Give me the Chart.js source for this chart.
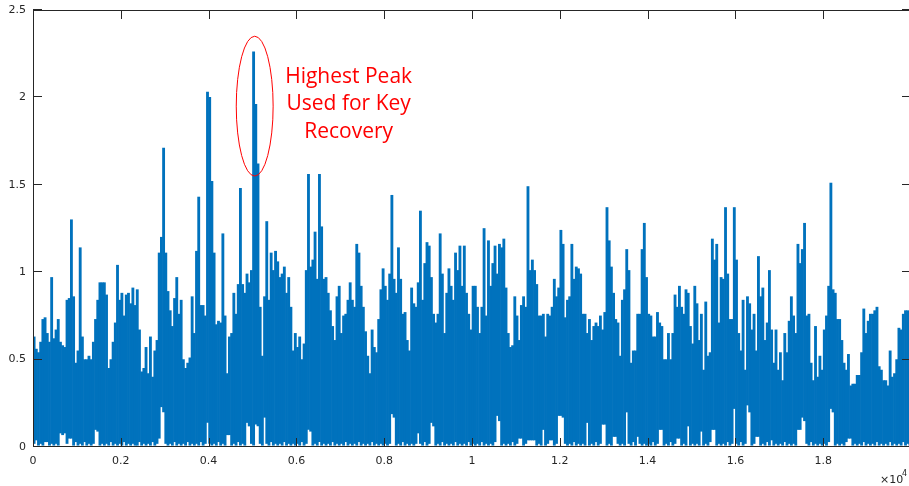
<!DOCTYPE html>
<html>
<head>
<meta charset="utf-8">
<script src="https://cdn.jsdelivr.net/npm/chart.js@4/dist/chart.umd.min.js"></script>
<style>
  html, body { margin: 0; padding: 0; background: #ffffff; }
  #frame { width: 909px; height: 486px; overflow: hidden; position: relative; }
  canvas { display: block; }
</style>
</head>
<body>
<div id="frame"><canvas id="trace" width="912" height="486"></canvas></div>
<script>
// Correlation trace, summarised as one max / min pair per bin of 50 samples.
const samplesPerBin = 50;
const signalLength = 20000;

// Upper envelope of each bin (one row per 1000 samples).
const peakValues = [
  0.63, 0.56, 0.54, 0.60, 0.73, 0.74, 0.65, 0.60, 0.97, 0.62, 0.67, 0.73, 0.60, 0.58, 0.57, 0.84, 0.85, 1.30, 0.86, 0.48,
  0.55, 1.14, 0.63, 0.50, 0.50, 0.52, 0.50, 0.60, 0.73, 0.84, 0.94, 0.94, 0.94, 0.87, 0.45, 0.50, 0.60, 0.71, 1.04, 0.84,
  0.88, 0.75, 0.87, 0.88, 0.82, 0.91, 0.81, 0.90, 0.67, 0.43, 0.45, 0.57, 0.42, 0.63, 0.40, 0.55, 0.61, 1.11, 1.20, 1.71,
  1.11, 0.89, 0.78, 0.69, 0.85, 0.97, 0.76, 0.84, 0.50, 0.45, 0.48, 0.51, 0.86, 0.65, 1.12, 1.43, 0.81, 0.81, 0.75, 2.03,
  2.00, 1.52, 1.11, 0.70, 0.72, 0.71, 1.22, 0.75, 0.42, 0.63, 0.65, 0.88, 0.76, 0.93, 1.48, 0.93, 0.88, 0.99, 0.94, 1.01,
  2.26, 1.96, 1.62, 0.80, 0.52, 0.86, 1.29, 0.84, 1.11, 1.01, 1.12, 1.06, 0.97, 0.99, 1.03, 0.88, 0.97, 0.80, 0.55, 0.65,
  0.57, 0.63, 0.50, 0.59, 1.01, 1.56, 1.03, 1.07, 1.23, 0.96, 1.56, 1.26, 0.96, 0.97, 0.88, 0.78, 0.69, 0.61, 0.86, 0.92,
  0.65, 0.75, 0.76, 0.84, 0.94, 0.84, 0.80, 1.16, 1.11, 0.92, 0.80, 0.66, 0.52, 0.42, 0.67, 0.57, 0.54, 0.73, 0.90, 1.02,
  0.92, 0.84, 0.99, 1.44, 0.96, 0.88, 1.14, 0.96, 0.76, 0.77, 0.61, 0.55, 0.91, 0.82, 0.80, 0.94, 1.35, 0.84, 1.05, 1.17,
  1.15, 0.97, 0.76, 0.71, 0.76, 1.22, 0.99, 0.65, 0.88, 1.02, 0.92, 0.84, 1.11, 1.01, 1.15, 0.92, 1.15, 0.88, 0.76, 0.67,
  0.92, 0.92, 0.80, 0.65, 0.80, 1.25, 0.75, 1.18, 0.92, 1.05, 1.15, 0.99, 1.16, 1.14, 1.19, 0.91, 0.65, 0.57, 0.58, 0.86,
  0.75, 0.61, 0.81, 0.86, 0.80, 1.49, 1.01, 1.07, 1.01, 0.93, 0.75, 0.75, 0.76, 0.63, 0.76, 0.75, 0.80, 0.96, 0.86, 0.91,
  1.24, 1.16, 0.74, 0.84, 0.86, 1.16, 0.96, 1.03, 1.02, 0.99, 0.76, 0.76, 0.65, 0.73, 0.61, 0.69, 0.71, 0.69, 0.75, 0.67,
  0.77, 1.37, 1.18, 1.03, 0.88, 0.73, 0.71, 0.52, 0.84, 0.90, 1.13, 1.01, 0.48, 0.55, 0.55, 0.76, 0.76, 1.13, 1.28, 0.97,
  0.76, 0.75, 0.63, 0.63, 0.77, 0.71, 0.69, 0.50, 0.50, 0.65, 0.50, 0.65, 0.87, 0.80, 0.92, 0.80, 0.76, 0.90, 0.88, 0.69,
  0.59, 0.92, 0.82, 0.61, 0.76, 0.44, 0.83, 0.52, 0.54, 1.19, 1.07, 1.16, 0.71, 0.97, 0.96, 1.37, 0.99, 0.73, 0.73, 1.37,
  1.07, 0.65, 0.55, 0.84, 0.44, 0.86, 0.82, 0.67, 0.76, 0.55, 1.09, 0.86, 0.91, 0.61, 0.71, 1.01, 0.67, 0.48, 0.67, 0.44,
  0.54, 0.38, 0.65, 0.54, 0.72, 0.86, 0.75, 0.65, 1.16, 1.05, 1.13, 1.28, 0.75, 0.76, 0.48, 0.38, 0.69, 0.40, 0.52, 0.44,
  0.67, 0.75, 0.92, 1.51, 0.90, 0.88, 0.73, 0.73, 0.61, 0.48, 0.44, 0.53, 0.35, 0.36, 0.36, 0.41, 0.41, 0.54, 0.79, 0.65,
  0.72, 0.76, 0.76, 0.78, 0.80, 0.46, 0.44, 0.38, 0.38, 0.35, 0.55, 0.40, 0.42, 0.50, 0.68, 0.67, 0.76, 0.78, 0.78, 0.70
];

// Lower envelope of each bin (same layout).
const dipValues = [
  0.02, 0.04, 0.01, 0.02, 0.01, 0.03, 0.03, 0.01, 0.02, 0.01, 0.02, 0.01, 0.08, 0.07, 0.08, 0.02, 0.05, 0.05, 0.01, 0.03,
  0.01, 0.02, 0.01, 0.03, 0.01, 0.02, 0.01, 0.02, 0.10, 0.09, 0.01, 0.02, 0.01, 0.02, 0.01, 0.03, 0.01, 0.02, 0.01, 0.02,
  0.01, 0.03, 0.01, 0.02, 0.01, 0.02, 0.01, 0.01, 0.03, 0.01, 0.02, 0.01, 0.02, 0.01, 0.03, 0.01, 0.02, 0.05, 0.23, 0.20,
  0.02, 0.01, 0.02, 0.01, 0.03, 0.01, 0.02, 0.01, 0.02, 0.01, 0.03, 0.01, 0.02, 0.01, 0.02, 0.01, 0.03, 0.01, 0.02, 0.14,
  0.02, 0.01, 0.02, 0.01, 0.03, 0.01, 0.02, 0.01, 0.07, 0.07, 0.01, 0.02, 0.01, 0.03, 0.01, 0.02, 0.01, 0.14, 0.12, 0.02,
  0.01, 0.13, 0.12, 0.02, 0.01, 0.17, 0.02, 0.01, 0.03, 0.01, 0.02, 0.01, 0.02, 0.01, 0.03, 0.01, 0.02, 0.01, 0.02, 0.01,
  0.02, 0.01, 0.03, 0.01, 0.02, 0.10, 0.09, 0.01, 0.02, 0.01, 0.03, 0.01, 0.02, 0.01, 0.02, 0.01, 0.03, 0.01, 0.02, 0.01,
  0.02, 0.01, 0.03, 0.01, 0.02, 0.01, 0.02, 0.01, 0.03, 0.01, 0.02, 0.01, 0.02, 0.01, 0.03, 0.01, 0.02, 0.01, 0.02, 0.01,
  0.02, 0.01, 0.02, 0.19, 0.17, 0.01, 0.02, 0.01, 0.03, 0.01, 0.02, 0.01, 0.02, 0.01, 0.02, 0.08, 0.02, 0.01, 0.03, 0.01,
  0.02, 0.14, 0.12, 0.01, 0.02, 0.01, 0.03, 0.01, 0.02, 0.01, 0.02, 0.01, 0.03, 0.01, 0.02, 0.01, 0.02, 0.01, 0.03, 0.01,
  0.02, 0.01, 0.02, 0.01, 0.03, 0.01, 0.02, 0.01, 0.02, 0.01, 0.03, 0.18, 0.15, 0.01, 0.02, 0.01, 0.02, 0.01, 0.03, 0.01,
  0.02, 0.05, 0.05, 0.01, 0.02, 0.04, 0.04, 0.04, 0.04, 0.01, 0.02, 0.01, 0.10, 0.01, 0.02, 0.04, 0.04, 0.01, 0.02, 0.18,
  0.18, 0.17, 0.02, 0.01, 0.02, 0.01, 0.03, 0.01, 0.02, 0.01, 0.02, 0.01, 0.14, 0.01, 0.02, 0.01, 0.03, 0.01, 0.02, 0.13,
  0.13, 0.01, 0.02, 0.01, 0.06, 0.06, 0.02, 0.01, 0.02, 0.01, 0.20, 0.02, 0.01, 0.03, 0.01, 0.06, 0.02, 0.01, 0.02, 0.01,
  0.02, 0.01, 0.03, 0.01, 0.02, 0.10, 0.10, 0.01, 0.02, 0.01, 0.03, 0.01, 0.02, 0.05, 0.05, 0.01, 0.02, 0.01, 0.12, 0.01,
  0.02, 0.01, 0.02, 0.01, 0.09, 0.01, 0.02, 0.01, 0.03, 0.10, 0.10, 0.01, 0.02, 0.01, 0.02, 0.01, 0.03, 0.01, 0.02, 0.22,
  0.02, 0.01, 0.03, 0.01, 0.02, 0.24, 0.20, 0.01, 0.02, 0.06, 0.06, 0.01, 0.02, 0.01, 0.03, 0.01, 0.04, 0.01, 0.02, 0.01,
  0.02, 0.01, 0.03, 0.01, 0.02, 0.01, 0.02, 0.01, 0.10, 0.10, 0.17, 0.15, 0.02, 0.01, 0.03, 0.01, 0.02, 0.01, 0.02, 0.01,
  0.02, 0.01, 0.03, 0.22, 0.20, 0.01, 0.02, 0.01, 0.02, 0.01, 0.03, 0.05, 0.05, 0.01, 0.02, 0.01, 0.02, 0.01, 0.03, 0.01,
  0.02, 0.01, 0.02, 0.01, 0.03, 0.01, 0.02, 0.01, 0.02, 0.01, 0.03, 0.01, 0.02, 0.01, 0.02, 0.01, 0.03, 0.01, 0.02, 0.01
];

// Axis ticks
const xTickValues = [0, 2000, 4000, 6000, 8000, 10000, 12000, 14000, 16000, 18000];
const xTickLabels = ['0', '0.2', '0.4', '0.6', '0.8', '1', '1.2', '1.4', '1.6', '1.8'];
const yTickValues = [0, 0.5, 1, 1.5, 2, 2.5];
const yTickLabels = ['0', '0.5', '1', '1.5', '2', '2.5'];

// Callout around the strongest correlation peak
const calloutLines = ['Highest Peak', 'Used for Key', 'Recovery'];
const ring = { x: 5050, y: 1.95, rx: 420, ry: 0.40 };
const calloutAnchor = { x: 7190, y: 1.96 };

const AXIS_COLOR = '#262626';
const TRACE_COLOR = '#0072BD';
const TICK_FONT = { family: 'DejaVu Sans, sans-serif', size: 11 };

// Every bin is drawn as a solid column spanning its min..max range.
const binColumns = peakValues.map((peak, i) => ({
  x: i * samplesPerBin + samplesPerBin / 2,
  y: [dipValues[i], peak]
}));

const boxAndTicks = {
  id: 'boxAndTicks',
  afterDraw(chart) {
    const { ctx, chartArea: a, scales } = chart;
    const len = 9;
    ctx.save();
    ctx.strokeStyle = AXIS_COLOR;
    ctx.lineWidth = 1;
    ctx.beginPath();
    ctx.rect(a.left + 0.5, a.top + 0.5, a.right - a.left - 1, a.bottom - a.top - 1);
    xTickValues.forEach(v => {
      const px = Math.round(scales.x.getPixelForValue(v)) + 0.5;
      ctx.moveTo(px, a.bottom); ctx.lineTo(px, a.bottom - len);
      ctx.moveTo(px, a.top); ctx.lineTo(px, a.top + len);
    });
    yTickValues.forEach(v => {
      const py = Math.round(scales.y.getPixelForValue(v)) - 0.5;
      ctx.moveTo(a.left, py); ctx.lineTo(a.left + len, py);
      ctx.moveTo(a.right, py); ctx.lineTo(a.right - len, py);
    });
    ctx.stroke();

    // exponent of the x axis
    ctx.fillStyle = AXIS_COLOR;
    ctx.textBaseline = 'alphabetic';
    ctx.textAlign = 'left';
    ctx.font = '11px DejaVu Sans, sans-serif';
    ctx.fillText('\u00d710', 880, 483);
    ctx.font = '8px DejaVu Sans, sans-serif';
    ctx.fillText('4', 902, 476);
    ctx.restore();
  }
};

const callout = {
  id: 'callout',
  afterDraw(chart) {
    const { ctx, scales } = chart;
    const cx = scales.x.getPixelForValue(ring.x);
    const cy = scales.y.getPixelForValue(ring.y);
    const rx = scales.x.getPixelForValue(ring.x + ring.rx) - cx;
    const ry = cy - scales.y.getPixelForValue(ring.y + ring.ry);
    ctx.save();
    ctx.strokeStyle = '#ff0000';
    ctx.lineWidth = 1;
    ctx.beginPath();
    ctx.ellipse(cx, cy, rx, ry, 0, 0, Math.PI * 2);
    ctx.stroke();

    const tx = scales.x.getPixelForValue(calloutAnchor.x);
    const ty = scales.y.getPixelForValue(calloutAnchor.y);
    ctx.fillStyle = '#ff0000';
    ctx.font = '21px "Open Sans", sans-serif';
    ctx.textAlign = 'center';
    ctx.textBaseline = 'middle';
    calloutLines.forEach((line, k) => {
      ctx.fillText(line, tx, ty + (k - 1) * 27.5);
    });
    ctx.restore();
  }
};

new Chart(document.getElementById('trace'), {
  type: 'bar',
  data: {
    datasets: [{
      data: binColumns,
      backgroundColor: TRACE_COLOR,
      borderWidth: 0,
      barPercentage: 1,
      categoryPercentage: 1,
      borderSkipped: false
    }]
  },
  options: {
    responsive: false,
    animation: false,
    events: [],
    layout: { padding: { top: 10, right: 1, left: 0, bottom: 0 } },
    plugins: { legend: { display: false }, tooltip: { enabled: false } },
    scales: {
      x: {
        type: 'linear',
        min: 0,
        max: signalLength,
        offset: false,
        afterFit(s) { s.height = 39; s.paddingLeft = 0; s.paddingRight = 0; },
        afterBuildTicks(s) { s.ticks = xTickValues.map(v => ({ value: v })); },
        grid: { display: false, drawTicks: false, offset: false },
        border: { display: false },
        ticks: {
          autoSkip: false,
          maxRotation: 0,
          padding: 8,
          color: AXIS_COLOR,
          font: TICK_FONT,
          callback: v => xTickLabels[xTickValues.indexOf(v)]
        }
      },
      y: {
        type: 'linear',
        min: 0,
        max: 2.5,
        afterFit(s) { s.width = 33; s.paddingTop = 0; s.paddingBottom = 0; },
        afterBuildTicks(s) { s.ticks = yTickValues.map(v => ({ value: v })); },
        grid: { display: false, drawTicks: false },
        border: { display: false },
        ticks: {
          padding: 7,
          color: AXIS_COLOR,
          font: TICK_FONT,
          callback: v => yTickLabels[yTickValues.indexOf(v)]
        }
      }
    }
  },
  plugins: [boxAndTicks, callout]
});
</script>
</body>
</html>
